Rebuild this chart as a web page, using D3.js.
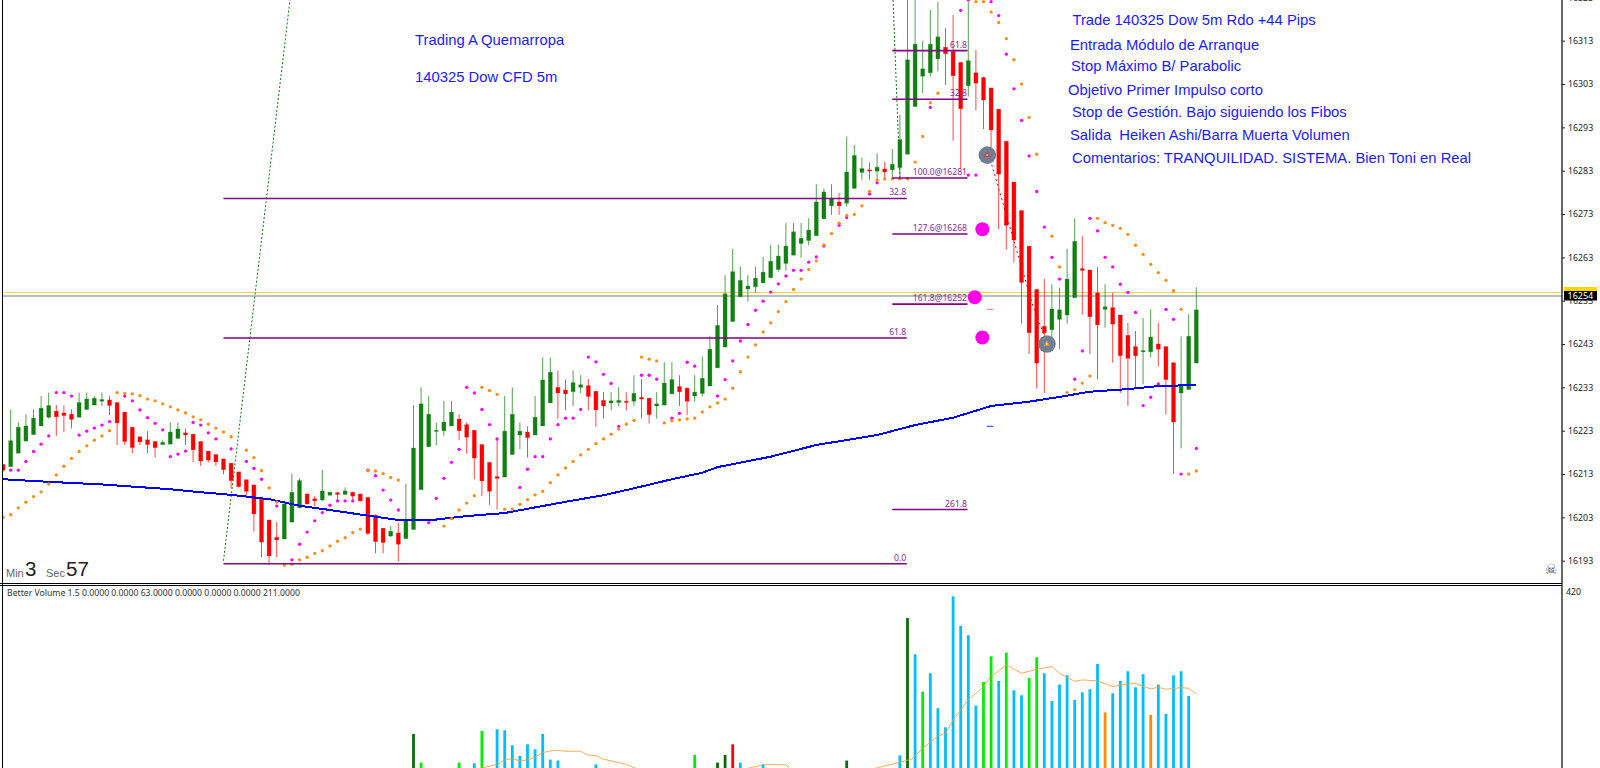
<!DOCTYPE html>
<html><head><meta charset="utf-8">
<script src="https://cdn.jsdelivr.net/npm/d3@7"></script>
<style>html,body{margin:0;padding:0;background:#fff;overflow:hidden}svg{display:block}text{font-family:"Noto Sans",sans-serif}</style>
</head><body><svg id="c" width="1600" height="768"></svg>
<script>
const opens=[16215.2,16214.7,16217.8,16220.6,16222.1,16224.1,16226.1,16227.5,16227.1,16226.8,
16226.1,16227.9,16228.9,16229.8,16230.1,16229.5,16227.3,16223.8,16221.6,16220.9,
16220.5,16219.8,16219.9,16221.2,16222.5,16222.2,16220.5,16218.3,16217.5,16216.5,
16215.5,16213.5,16211.7,16210.5,16207.2,16202.4,16198.4,16198,16201.9,16205.2,
16208.4,16207.3,16207,16208.1,16208.7,16208.3,16208.8,16208.4,16207.6,16203.5,
16200.5,16198.7,16199.4,16198.1,16200.2,16209.4,16219.3,16222.9,16223,16224.1,
16225.7,16224.4,16223.1,16219.8,16215.7,16212.4,16212.3,16217.5,16222,16222.7,
16222,16224.1,16229.4,16233,16232.4,16232,16233,16233.4,16232.1,16230,
16229.4,16229.5,16229.8,16229.8,16230.7,16230.5,16228.7,16228.9,16231.5,16233.2,
16232.8,16231,16231.6,16233.3,16237.5,16242.3,16248.2,16253.9,16255.7,16256.2,
16257.1,16258.3,16260.2,16261.6,16263.5,16266.2,16266.9,16268,16271.9,16274.9,
16275.8,16275.5,16278.9,16282.6,16283.2,16282.9,16283.4,16283.2,16283.7,16286.8,
16297.8,16304.8,16305.6,16308.8,16311.5,16310.5,16308,16302.6,16305.6,16304.5,
16302.1,16297.2,16289.8,16280.4,16273.8,16265.6,16255.6,16247.1,16246.3,16248.7,
16249.7,16253.7,16260.4,16260.1,16254.8,16251,16251.4,16249.7,16245,16242.4,
16241.2,16241.2,16243,16242.4,16238.7,16231.7,16232.5,16238.6];
const highs=[16215.2,16227.9,16224.9,16226.8,16227.9,16231,16231.8,16228.9,16228.8,16227.9,
16231.8,16231.8,16231,16231.8,16231,16229.5,16227.3,16223.8,16221.6,16222.9,
16220.6,16220.8,16224.9,16224.9,16223.5,16222.2,16220.5,16218.3,16217.5,16216.5,
16215.5,16213.5,16211.7,16210.5,16207.2,16202.4,16201.9,16206.6,16213.1,16212,
16208.5,16207.9,16213.9,16208.9,16208.9,16209.9,16208.9,16208.5,16207.6,16203.7,
16200.5,16201,16201.8,16210.8,16228.9,16233,16231,16224.9,16229.9,16229.9,
16226.8,16224.9,16223.1,16219.8,16215.7,16221.2,16231,16233,16224.9,16224,
16231,16239.9,16239.9,16236.9,16234.8,16236.9,16235.8,16234.9,16232.1,16231.9,
16231.9,16233,16231.9,16235.8,16234.9,16230.5,16231.9,16238.8,16238.8,16235.8,
16233,16235.8,16240.1,16244.9,16252,16258.9,16265,16260.9,16258.9,16260.9,
16263.1,16265.9,16265.9,16270.9,16270.9,16270.9,16272,16279.9,16278.9,16279.9,
16277.9,16290.9,16288.9,16286,16284.9,16287,16285,16288,16295.9,16330,
16330,16313,16320.1,16322,16315.9,16318.9,16308,16322,16310.9,16304.7,
16302.1,16297.2,16289.8,16280.4,16273.8,16265.6,16255.6,16258,16256.8,16256,
16265,16272,16267.9,16260.1,16260.8,16256.8,16254.8,16249.7,16247.9,16246,
16249,16251,16247.9,16242.5,16238.7,16244.8,16249.9,16256.1];
const lows=[16213.5,16214.7,16217.8,16220.6,16222.1,16224.1,16225.8,16221.8,16222.7,16223.5,
16226.1,16227.9,16228.9,16228.7,16226.6,16219.7,16219.7,16217.8,16219.7,16217.8,
16216.8,16219.7,16219.9,16221.2,16219.7,16215.7,16214.9,16215.7,16214.9,16212.9,
16209.7,16209.9,16207.8,16199.7,16193.8,16192,16193.8,16198,16201.9,16205.2,
16206,16205.6,16206.8,16208.1,16206.6,16208.2,16207,16206.6,16198.9,16194.7,
16194.7,16198.5,16192.8,16198.1,16200.2,16209.4,16219.3,16219.7,16221.8,16224.1,
16220.8,16217.7,16211.8,16207.9,16205.9,16204.8,16212.3,16217.5,16218.7,16216.8,
16222,16224.1,16229.4,16225.8,16227.7,16228.7,16231.7,16227.7,16223.9,16225.8,
16227.7,16228.7,16227.7,16228.7,16225.8,16224.7,16225.8,16228.9,16231.5,16228.7,
16226.6,16229.7,16230.9,16233.3,16237.5,16242.3,16248.2,16253.9,16252.8,16254.9,
16257.1,16258.3,16259.7,16259.9,16263.5,16262.9,16265.8,16268,16271.9,16272.8,
16272.8,16274.7,16278.9,16280.9,16280.9,16280.9,16280.9,16281.4,16281.2,16286.8,
16297.8,16300.9,16304.7,16305.9,16302.8,16289.9,16283.6,16300.1,16296.9,16292.6,
16287.4,16269.5,16264.8,16261.8,16247.7,16240.7,16232.7,16231.7,16243.9,16241.8,
16247.7,16253.7,16249.8,16240.7,16234.8,16246.8,16238.7,16231.7,16228.7,16232.9,
16233.7,16239.9,16237.9,16226.7,16213,16218.9,16232.5,16238.6];
const closes=[16213.9,16220.7,16223.8,16224.1,16225.9,16228.2,16228.8,16226.2,16226.5,16225.6,
16229.5,16230.3,16230.5,16230.2,16228.8,16224.8,16220.5,16219.1,16220.4,16219.8,
16219.1,16220.3,16222.7,16223.4,16222,16218.6,16216,16216.2,16215.8,16214,
16211.5,16210.1,16209,16203.8,16197.3,16194.1,16197.8,16206.1,16208.8,16211.5,
16206.1,16206.8,16209.1,16208.8,16208.3,16209.1,16207.9,16206.8,16199.3,16197.4,
16197.2,16199.8,16196.8,16202.5,16219,16229.2,16226.8,16223.1,16225,16227.3,
16223,16221.5,16216.7,16211.4,16209,16212,16222.9,16226.8,16222.9,16221.4,
16226.1,16234.7,16236.5,16231.7,16231.5,16234.1,16233.6,16230.9,16227.8,16228.7,
16229.9,16230,16229.6,16231.6,16230.3,16226.7,16229.2,16234,16234.8,16232,
16229.8,16231.9,16235.1,16241.8,16247.3,16254.6,16259.7,16257.7,16256.4,16258.2,
16259.6,16262.1,16263.3,16265.6,16268.9,16267.4,16269.3,16275.8,16278.1,16276.5,
16274.9,16282.7,16286.5,16283.5,16282.9,16283.8,16282.7,16284.5,16290.2,16308.6,
16312.2,16306.5,16312.2,16313.9,16310,16304.9,16297.3,16308.4,16303.2,16299.3,
16292.4,16282.2,16270.4,16267,16257.2,16245.6,16238.6,16245.6,16251.1,16250.9,
16258,16266.7,16260,16249.3,16247.4,16251.6,16247.6,16240.3,16239.7,16240.3,
16241.5,16244.6,16241.8,16234.8,16225,16233.3,16244.8,16250.9];

const maLine=[[0,16211.8],[6,16211.2],[13,16210.6],[17,16210.1],[22,16209.5],[26,16208.8],[30,16208.2],[35,16207.2],[39,16205.7],[43,16204.7],[48,16203.4],[52,16202.4],[57,16202.5],[61,16203.3],[66,16204],[70,16205.3],[75,16206.9],[79,16208.1],[83,16209.7],[88,16211.8],[92,16213.3],[94,16214.6],[101,16217],[107,16219.7],[115,16222],[120,16224.3],[125,16226],[130,16228.7],[135,16229.7],[139,16230.8],[143,16232],[148,16232.6],[152,16233.3],[156,16233.5],[157,16233.6]];

const pinkSar=[[1,16213.9],[2,16213.9],[3,16215.9],[4,16218.2],[5,16219.9],[6,16221.8],[7,16231.8],[8,16231.8],[9,16231],[10,16222],[11,16222.9],[12,16223.6],[13,16224.3],[14,16225.1],[16,16231],[17,16229.9],[18,16227.8],[19,16226],[20,16224.7],[21,16223.2],[22,16217],[23,16217.6],[24,16218.3],[25,16224.9],[26,16224.3],[27,16222.5],[28,16221.1],[30,16218.8],[32,16215.9],[33,16214.3],[34,16211.8],[36,16205.6],
[38,16193.2],[39,16196.8],[40,16199.6],[41,16202.2],[42,16204.1],[43,16205.8],[44,16206.8],[45,16206.8],[46,16206.8],[48,16213.9],[49,16212.6],[50,16209.3],[51,16207],[52,16204.7],
[56,16201.8],[57,16207.4],[58,16212],[59,16215.7],[60,16218.7],[61,16233],[62,16231.7],[63,16227.9],[64,16224.4],[65,16221.1],[68,16209.9],[69,16214.1],[70,16217],[71,16217],[72,16221.1],[73,16224.4],[74,16225.9],[75,16225.9],[76,16227.9],[77,16240],[78,16238.9],[79,16236],[80,16233.9],[81,16224],[84,16235.8],[85,16235.8],[86,16234.9],[88,16225.9],[89,16227],[90,16238.8],[91,16237.9],
[94,16231],[95,16234.8],[96,16239.1],[97,16243.7],[98,16247.5],[99,16250.8],[100,16252.9],[101,16255],[102,16256.9],[103,16258.7],[104,16260],[105,16260],[106,16261.9],[107,16263.1],[108,16265.6],[110,16270.4],[111,16272.2],[114,16277.6],[115,16280.2],
[122,16297.6],[126,16320],[127,16322.4],[127,16282],[128,16282],[129,16285.6],[130,16322],[131,16318.8],[132,16309.9],[133,16301.9],[134,16294.6],[135,16286.4],[136,16278.2],[137,16270],[138,16263],[139,16258],[141,16234.9],[142,16241.4],
[143,16272],[144,16269.1],[145,16263],[146,16260.8],[147,16256.8],[148,16254.9],[149,16250.3],[150,16228.8],[151,16230.7],[152,16233.8],[153,16251],[154,16248.7],[155,16213],[157,16218.9]];

const orangeSar=[[0,16203],[1,16203.6],[2,16205.2],[3,16206.5],[4,16207.8],[5,16208.9],[6,16210.7],[7,16212.8],[8,16214.8],[9,16216.6],[10,16218.2],[11,16219.5],[12,16220.8],[13,16221.8],[14,16223],
[15,16231.8],[16,16231.6],[17,16231.5],[18,16231.1],[19,16230.3],[20,16229.9],[21,16229.2],[22,16228.5],[23,16227.8],[24,16227.1],[25,16226.2],[26,16225.5],[27,16224.5],[28,16223.6],[29,16222.7],[30,16221.6],[32,16218.5],[33,16216.8],[34,16213.8],[35,16209.8],[36,16206.5],
[37,16192],[38,16192.2],[39,16193.2],[40,16193.8],[41,16194.7],[42,16195.3],[43,16196.4],[44,16197.5],[45,16198.3],[46,16199.5],[47,16200.3],[48,16213.9],[49,16213.7],[50,16213.1],[51,16212.2],[52,16211.6],
[58,16201],[59,16202.7],[60,16204.7],[61,16206.3],[62,16208],[63,16233],[64,16232.3],[65,16231.4],[66,16204.9],[67,16204.9],[68,16206],[69,16207.1],[70,16208.2],[71,16209],[72,16211],[73,16212.8],[74,16214.4],[75,16215.9],[76,16217.4],[77,16218.7],[78,16220],[79,16221.1],[80,16222.2],[81,16223.4],[82,16224.5],[83,16225.4],[84,16240],[85,16239.5],[86,16239.1],[87,16224.8],[88,16225.3],[89,16225.5],[90,16225.7],[91,16225.9],
[92,16227.3],[93,16228.5],[94,16229.4],[95,16230.3],[96,16232.8],[97,16236.6],[98,16240],[99,16242.8],[100,16245.8],[101,16247.9],[102,16250.5],[103,16252.8],[104,16255.6],[105,16258],[106,16260.2],[107,16262.2],[108,16265.9],[109,16268.5],[110,16270.9],[111,16272.7],[112,16272.9],[113,16274.9],[114,16278.2],[115,16280.8],[116,16281.1],[117,16281.1],[118,16281.1],[119,16281.1],[120,16285],[121,16290.9],[122,16298.7],[123,16300.9],
[128,16322],[129,16322],[130,16319.6],[131,16317.2],[132,16313.5],[133,16308.6],[134,16303],[135,16295.3],[136,16286.8],[138,16267.9],[139,16260.8],[140,16231.8],[141,16232.5],[142,16234],[143,16235.6],[144,16272],[145,16271],[146,16270.4],[147,16269.7],[148,16268.3],[149,16265.8],[150,16263.7],[151,16261.4],[152,16259.5],[153,16257.7],[154,16255.3],[155,16251],[156,16213],[157,16213.7]];

const fibLevels=[
 {a:29,b:118.9,p:16192.3,t:"0.0"},{a:29,b:118.9,p:16244.4,t:"61.8"},{a:29,b:118.9,p:16276.6,t:"32.8"},
 {a:117,b:126.9,p:16310.7,t:"61.8"},{a:117,b:126.9,p:16299.5,t:"32.8"},{a:117,b:126.9,p:16281.3,t:"100.0@16281"},
 {a:117,b:126.9,p:16268.4,t:"127.6@16268"},{a:117,b:126.9,p:16252.2,t:"161.8@16252"},{a:117,b:126.9,p:16204.8,t:"261.8"}];
const greenDotted=[[[29,16193],[37.75,16322.4]],[[117.1,16322.4],[118,16281.3]]];
const redDotted=[[129.9,16285.5],[135.5,16251.8],[137.4,16243]];
const bigDots=[[128.85,16269.5],[127.85,16253.8],[128.85,16244.5]];
const grayMarks=[[129.5,16286.6,"#ff2020"],[137.35,16243,"#ff9a20"]];
const dashes=[{a:129.4,b:130.3,p:16251,c:"#ff9090"},{a:129.4,b:130.3,p:16224,c:"#4060ff"}];
const priceTicks=[16323,16313,16303,16293,16283,16273,16263,16253,16243,16233,16223,16213,16203,16193];
const bidPrice=16254.1, askPrice=16254.9;

const volBars=[[54,208.6,"d"],[55,166.2,"l"],[60,166.2,"l"],[62,165.2,"b"],[63,213,"l"],[65,215.5,"b"],[66,214,"b"],[67,191.9,"b"],[68,176.1,"b"],[69,193.3,"b"],[70,186,"b"],[71,208.6,"b"],[72,170.6,"b"],[73,169.2,"b"],[78,163.7,"b"],[91,177.5,"l"],[94,166.2,"d"],[95,177.5,"d"],[96,193.3,"r"],[97,166.2,"b"],[100,163.7,"b"],[111,169.2,"d"],
[118,177,"b"],[119,380,"d"],[120,326.4,"b"],[121,271.2,"l"],[122,298.3,"b"],[123,246.6,"b"],[124,218.5,"b"],[125,412.2,"b"],[126,368.4,"b"],[127,354.6,"b"],[128,250.5,"b"],[129,285.5,"l"],[130,323.5,"l"],[131,287,"b"],[132,328.9,"l"],[133,273.2,"b"],[134,265.8,"b"],[135,291.4,"l"],[136,322,"l"],[137,298.3,"b"],[138,257.4,"b"],[139,281.6,"b"],[140,295.4,"b"],[141,258.9,"b"],[142,270.2,"b"],[143,274.7,"b"],[144,312.1,"b"],[145,240.6,"o"],[146,268.8,"b"],[147,287,"b"],[148,301.3,"b"],[149,277.6,"b"],[150,296.9,"b"],[151,236.7,"o"],[152,281.6,"b"],[153,238.2,"b"],[154,295.4,"b"],[155,301.3,"b"],[156,264.8,"b"]];
const volAvg=[[60,150],[65,163.8],[66,170.2],[67,172.1],[68,168.7],[69,170.2],[70,174.1],[71,181],[72,183.5],[73,184.5],[74,183],[76,183],[77,177.1],[78,176.6],[79,171.2],[81,166.2],[82,163.3],[85,150],[95,150],[100,163],[101,163.3],[103,163],[104,150],[112,150],[119.5,171.1],[121,187.4],[123,205.6],[124,209.6],[125,229.3],[127,258.9],[129,278.6],[130,293.4],[132,310.7],[134,298.3],[136,304.3],[138,308.2],[139,298.3],[141,286.5],[142,288.5],[144,287],[146,278.6],[148,282.6],[149,283.1],[151,275.2],[152,277.6],[153,274.7],[155,277.1],[156,276.2],[157,267.8]];
const volColor={b:"#00bfff",l:"#00ee00",d:"#0a6b0a",o:"#ff8c00",r:"#ff0000"};

const notesLeft=[["Trading A Quemarropa",415,40],["140325 Dow CFD 5m",415,76.5]];
const notesRight=[["Trade 140325 Dow 5m Rdo +44 Pips",1072.4,19.4],["Entrada Módulo de Arranque",1070,45],["Stop Máximo B/ Parabolic",1071,66.3],["Objetivo Primer Impulso corto",1068,90],["Stop de Gestión. Bajo siguiendo los Fibos",1072,112],["Salida  Heiken Ashi/Barra Muerta Volumen",1070,134.7],["Comentarios: TRANQUILIDAD. SISTEMA. Bien Toni en Real",1072,158]];

const svg=d3.select("#c");
const W=1562;
const x=d3.scaleLinear().domain([1,2]).range([10.7,18.3]);
const y=d3.scaleLinear().domain([16193,16313]).range([560.7,40.7]);
const yv=d3.scaleLinear().domain([0,420]).range([875,591]);
const defs=svg.append("defs");
defs.append("clipPath").attr("id","pc").append("rect").attr("x",3).attr("y",0).attr("width",W-3).attr("height",583);
defs.append("clipPath").attr("id","vc").append("rect").attr("x",3).attr("y",587).attr("width",W-3).attr("height",181);
const P=svg.append("g").attr("clip-path","url(#pc)");
const V=svg.append("g").attr("clip-path","url(#vc)");

[[askPrice,"#ffd633"],[bidPrice,"#708090"]].forEach(([p,c])=>P.append("line").attr("x1",3).attr("x2",W).attr("y1",y(p)).attr("y2",y(p)).attr("stroke",c).attr("stroke-width",1.1));
const ln=d3.line().x(d=>x(d[0])).y(d=>y(d[1]));
greenDotted.forEach(s=>P.append("path").attr("d",ln(s)).attr("fill","none").attr("stroke","#0a7a0a").attr("stroke-width",1).attr("stroke-dasharray","2 2"));
const idx=d3.range(opens.length);
const col=i=>closes[i]>=opens[i]?"#118011":"#ff0000";
P.append("g").selectAll("line").data(idx).join("line").attr("x1",x).attr("x2",x)
 .attr("y1",i=>y(highs[i])).attr("y2",i=>y(lows[i])).attr("stroke",col).attr("stroke-width",1).attr("stroke-opacity",.72);
P.append("g").selectAll("rect").data(idx).join("rect").attr("x",i=>x(i)-2).attr("width",4)
 .attr("y",i=>y(Math.max(opens[i],closes[i]))).attr("height",i=>Math.max(1.2,Math.abs(y(opens[i])-y(closes[i]))))
 .attr("fill",col).attr("stroke",col).attr("stroke-width",.8).attr("stroke-opacity",.3);
P.append("path").attr("d",ln(redDotted)).attr("fill","none").attr("stroke","#ff0000").attr("stroke-width",1).attr("stroke-dasharray","2 3");
P.append("path").attr("d",ln(maLine)).attr("fill","none").attr("stroke","#0000ff").attr("stroke-width",2).attr("shape-rendering","crispEdges");
[[pinkSar,"#ff00ff"],[orangeSar,"#ff8c10"]].forEach(([a,c])=>P.append("g").selectAll("circle").data(a).join("circle")
 .attr("cx",d=>x(d[0])).attr("cy",d=>y(d[1])).attr("r",1.65).attr("fill",c));
const F=P.append("g");
F.selectAll("line").data(fibLevels).join("line").attr("x1",d=>x(d.a)).attr("x2",d=>x(d.b)).attr("y1",d=>y(d.p)).attr("y2",d=>y(d.p)).attr("stroke","#800080").attr("stroke-width",1.6);
F.selectAll("text").data(fibLevels).join("text").attr("x",d=>x(d.b)-.5).attr("y",d=>y(d.p)-3).attr("text-anchor","end")
 .attr("font-size",8.6).attr("fill","#8a2a9a").text(d=>d.t);
P.append("g").selectAll("circle").data(bigDots).join("circle").attr("cx",d=>x(d[0])).attr("cy",d=>y(d[1])).attr("r",7).attr("fill","#ff00ee");
const G=P.append("g").selectAll("g").data(grayMarks).join("g").attr("transform",d=>`translate(${x(d[0])},${y(d[1])})`);
G.append("circle").attr("r",8.8).attr("fill","#708090");
G.append("path").attr("d",d3.symbol(d3.symbolTriangle,16)).attr("fill",d=>d[2]);
G.append("circle").attr("r",1.1).attr("fill","#ffd0d0");
P.append("g").selectAll("line").data(dashes).join("line").attr("x1",d=>x(d.a)).attr("x2",d=>x(d.b)).attr("y1",d=>y(d.p)).attr("y2",d=>y(d.p)).attr("stroke",d=>d.c).attr("stroke-width",1.2);
P.append("g").selectAll("text").data(notesLeft.concat(notesRight)).join("text").attr("x",d=>d[1]).attr("y",d=>d[2]).attr("dy","0.35em")
 .style("font-family","'Liberation Sans',Arial,sans-serif").style("white-space","pre").attr("font-size",14.8).attr("fill","#1a1aff").text(d=>d[0]);
const T=[["Min",6,577,11,"#666"],["3",25,576,20.5,"#222"],["Sec",46,577,11,"#666"],["57",66,576,20.5,"#222"]];
P.append("g").selectAll("text").data(T).join("text").attr("x",d=>d[1]).attr("y",d=>d[2]).style("font-family","'Liberation Sans',Arial,sans-serif").attr("font-size",d=>d[3]).attr("fill",d=>d[4]).text(d=>d[0]);
P.append("text").attr("x",1551).attr("y",574).attr("text-anchor","middle").style("font-family","'DejaVu Sans'").attr("font-size",14).attr("fill","#555").text("\u2620");

V.append("g").selectAll("rect").data(volBars).join("rect").attr("x",d=>x(d[0])-1.4).attr("width",2.8)
 .attr("y",d=>yv(d[1])).attr("height",d=>yv(0)-yv(d[1])).attr("fill",d=>volColor[d[2]]);
V.append("path").attr("d",d3.line().x(d=>x(d[0])).y(d=>yv(d[1]))(volAvg)).attr("fill","none").attr("stroke","#ff9a30").attr("stroke-width",1).attr("stroke-opacity",.8);
svg.append("text").attr("x",7).attr("y",596).attr("font-size",8.66).attr("fill","#333").text("Better Volume 1.5 0.0000 0.0000 63.0000 0.0000 0.0000 0.0000 211.0000");

const fr=svg.append("g").attr("stroke","#000");
fr.append("line").attr("x1",2.5).attr("x2",2.5).attr("y1",0).attr("y2",768).attr("stroke-width",1);
fr.append("line").attr("x1",W).attr("x2",W).attr("y1",0).attr("y2",768).attr("stroke-width",1.2);
fr.append("line").attr("x1",0).attr("x2",W).attr("y1",583.5).attr("y2",583.5).attr("stroke-width",1);
fr.append("line").attr("x1",0).attr("x2",W).attr("y1",585.5).attr("y2",585.5).attr("stroke-width",1);
const ax=svg.append("g").attr("transform",`translate(${W},0)`).call(d3.axisRight(y).tickValues(priceTicks).tickFormat(d3.format("d")).tickSize(3).tickPadding(3));
ax.select(".domain").remove();
ax.selectAll("text").attr("font-size",8.8).attr("fill","#222").style("font-family","'Noto Sans'");
ax.selectAll("line").attr("stroke","#222");
svg.append("rect").attr("x",W+2).attr("y",287).attr("width",33).attr("height",5).attr("fill","#ffd700");
svg.append("rect").attr("x",W+2).attr("y",291).attr("width",33).attr("height",9.5).attr("fill","#000");
svg.append("text").attr("x",W+5.5).attr("y",299).attr("font-size",9).attr("fill","#fff").text(Math.floor(bidPrice));
svg.append("text").attr("x",W+4).attr("y",595).attr("font-size",8.8).attr("fill","#222").text("420");
</script></body></html>
